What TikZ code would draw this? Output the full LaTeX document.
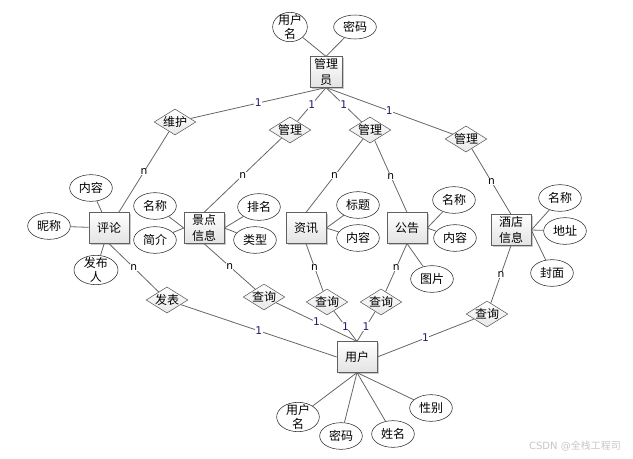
\documentclass[tikz,border=0pt]{standalone}
\usepackage{fontspec}
\setmainfont{DejaVu Sans}
\newfontfamily\cjk{Noto Sans CJK SC}
\usepackage{tikz}
\usetikzlibrary{shapes.geometric, shadows}

\definecolor{linegray}{HTML}{666666}
\definecolor{onenavy}{HTML}{1A1A6E}

\begin{document}
\begin{tikzpicture}[
    x=0.75pt, y=-0.75pt,
    entity/.style={rectangle, draw=gray!75!black, top color=white, bottom color=gray!22, drop shadow={shadow xshift=1.2pt, shadow yshift=-1.2pt, fill=gray!70, opacity=0.6}, minimum width=30pt, minimum height=23pt, inner sep=1pt, align=center, font=\cjk\fontsize{9}{12}\selectfont},
    relation/.style={diamond, draw=gray!70!black, top color=white, bottom color=gray!18, aspect=1.6, inner sep=0pt, font=\cjk\fontsize{9}{11}\selectfont},
    attr/.style={ellipse, draw=black!85, fill=white, minimum width=32pt, minimum height=20pt, inner sep=1pt, font=\cjk\fontsize{9}{11}\selectfont},
    attrtwo/.style={attr, inner sep=-3pt, align=center, minimum height=22pt},
    link/.style={draw=linegray, line width=0.6pt},
    one/.style={midway, fill=white, inner sep=0.3pt, text=onenavy, font=\fontsize{8}{8}\selectfont},
    many/.style={midway, fill=white, inner sep=0.3pt, font=\fontsize{8}{8}\selectfont}
]
    \useasboundingbox (0,0) rectangle (633,458);

    % administrator
    \node[entity, minimum width=24pt] (admin) at (326,72) {管理\\员};
    \node[attrtwo, minimum width=26pt] (admin-name) at (290,27) {用户\\名};
    \node[attr, minimum height=18pt] (admin-pwd) at (355,27) {密码};

    % relations of the administrator
    \node[relation] (maintain) at (175,122) {维护};
    \node[relation] (manage-a) at (290,130) {管理};
    \node[relation] (manage-b) at (370,130) {管理};
    \node[relation] (manage-c) at (466,139) {管理};

    % entities
    \node[entity] (comment) at (109,228) {评论};
    \node[entity] (scenic) at (204,228) {景点\\信息};
    \node[entity] (news) at (306,228) {资讯};
    \node[entity] (notice) at (407,228) {公告};
    \node[entity] (hotel) at (511,230) {酒店\\信息};

    % comment attributes
    \node[attr] (c-content) at (91,188) {内容};
    \node[attr] (c-nick) at (49,226) {昵称};
    \node[attrtwo, minimum width=33pt] (c-author) at (96,270) {发布\\人};

    % scenic attributes
    \node[attr] (s-name) at (155,206) {名称};
    \node[attr] (s-intro) at (155,240) {简介};
    \node[attr] (s-rank) at (259,207) {排名};
    \node[attr] (s-type) at (255,240) {类型};

    % news attributes
    \node[attr] (n-title) at (358,205) {标题};
    \node[attr] (n-content) at (358,238) {内容};

    % notice attributes
    \node[attr] (a-name) at (454,200) {名称};
    \node[attr] (a-content) at (455,238) {内容};
    \node[attr] (a-pic) at (432,279) {图片};

    % hotel attributes
    \node[attr] (h-name) at (560,198) {名称};
    \node[attr] (h-addr) at (565,231) {地址};
    \node[attr] (h-cover) at (552,273) {封面};

    % relations of the user
    \node[relation] (publish) at (167,300) {发表};
    \node[relation] (query-a) at (264,297) {查询};
    \node[relation] (query-b) at (327,302) {查询};
    \node[relation] (query-c) at (381,302) {查询};
    \node[relation] (query-d) at (487,314) {查询};

    % user
    \node[entity] (user) at (357,357) {用户};
    \node[attrtwo, minimum width=32pt] (u-name) at (298,417) {用户\\名};
    \node[attr] (u-pwd) at (341,436) {密码};
    \node[attr] (u-real) at (393,434) {姓名};
    \node[attr] (u-sex) at (431,408) {性别};

    % attribute links
    \draw[link] (admin.north) -- (admin-name);
    \draw[link] (admin.north) -- (admin-pwd);
    \draw[link] (comment) -- (c-content);
    \draw[link] (comment) -- (c-nick);
    \draw[link] (comment) -- (c-author);
    \draw[link] (scenic.west) -- (s-name);
    \draw[link] (scenic.west) -- (s-intro);
    \draw[link] (scenic.east) -- (s-rank);
    \draw[link] (scenic.east) -- (s-type);
    \draw[link] (news.east) -- (n-title);
    \draw[link] (news.east) -- (n-content);
    \draw[link] (notice.east) -- (a-name);
    \draw[link] (notice.east) -- (a-content);
    \draw[link] (notice.south) -- (a-pic);
    \draw[link] (hotel.east) -- (h-name);
    \draw[link] (hotel.east) -- (h-addr);
    \draw[link] (hotel.east) -- (h-cover);
    \draw[link] (user.south) -- (u-name);
    \draw[link] (user.south) -- (u-pwd);
    \draw[link] (user.south) -- (u-real);
    \draw[link] (user.south) -- (u-sex);

    % administrator side
    \draw[link] (admin.south) -- node[one]{1} (maintain);
    \draw[link] (admin.south) -- node[one]{1} (manage-a);
    \draw[link] (admin.south) -- node[one]{1} (manage-b);
    \draw[link] (admin.south) -- node[one]{1} (manage-c);
    \draw[link] (maintain) -- node[many]{n} (comment);
    \draw[link] (manage-a) -- node[many]{n} (scenic.north);
    \draw[link] (manage-b) -- node[many]{n} (news.north);
    \draw[link] (manage-b) -- node[many]{n} (notice.north);
    \draw[link] (manage-c) -- node[many]{n} (hotel.north);

    % user side
    \draw[link] (comment.south) -- node[many]{n} (publish);
    \draw[link] (scenic.south) -- node[many]{n} (query-a);
    \draw[link] (news.south) -- node[many]{n} (query-b);
    \draw[link] (notice.south) -- node[many]{n} (query-c);
    \draw[link] (hotel.south) -- node[many]{n} (query-d);
    \draw[link] (publish) -- node[one]{1} (user.west);
    \draw[link] (query-a) -- node[one]{1} (user.north);
    \draw[link] (query-b) -- node[one]{1} (user.north);
    \draw[link] (query-c) -- node[one]{1} (user.north);
    \draw[link] (query-d) -- node[one]{1} (user.east);

    \node[text=gray!45, font=\fontsize{7.5}{8}\selectfont] (mark) at (575,446) {CSDN @{\cjk 全栈工程司}};
\end{tikzpicture}
\end{document}
